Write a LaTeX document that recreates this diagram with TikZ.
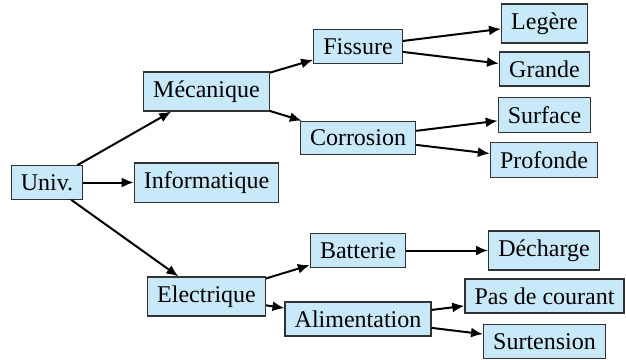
\documentclass[tikz,border=0pt]{standalone}
\usepackage{fontspec}
\setmainfont{Liberation Serif}
\usepackage{tikz}
\usetikzlibrary{arrows.meta,positioning}
\usepackage{xcolor}
\definecolor{boxblue}{RGB}{200,233,249}
\definecolor{boxline}{RGB}{50,50,50}

\tikzset{
    cat/.style={draw=boxline, fill=boxblue, line width=0.6pt, inner xsep=4.8pt, inner ysep=4.3pt, font=\fontsize{12}{14}\selectfont},
    link/.style={-{Latex[length=6pt,width=5pt]}, line width=1pt}
}

\begin{document}
\begin{tikzpicture}[x=0.5pt, y=-0.5pt]

\useasboundingbox (0,0) rectangle (626,359);

% Root
\node[cat] (univ) at (47, 182.5) {Univ.};

% First level
\node[cat] (meca) at (206.5, 91.5) {Mécanique};
\node[cat] (info) at (206.5, 182.5) {Informatique};
\node[cat] (elec) at (206.5, 296.5) {Electrique};

% Second level
\node[cat] (fiss) at (358, 46.5) {Fissure};
\node[cat] (corr) at (358, 138) {Corrosion};
\node[cat] (batt) at (358, 250.5) {Batterie};
\node[cat] (alim) at (358, 319) {Alimentation};

% Leaves
\node[cat] (leg)  at (544.5, 23.5) {Legère};
\node[cat] (grd)  at (544.5, 69) {Grande};
\node[cat] (surf) at (544.5, 115) {Surface};
\node[cat] (prof) at (544, 160) {Profonde};
\node[cat] (dech) at (544, 250.5) {Décharge};
\node[cat] (pas)  at (544.5, 296) {Pas de courant};
\node[cat] (surt) at (544.5, 341.5) {Surtension};

% Arrows
\foreach \a/\b in {univ/meca, univ/info, univ/elec,
                   meca/fiss, meca/corr, elec/batt, elec/alim,
                   fiss/leg, fiss/grd, corr/surf, corr/prof,
                   batt/dech, alim/pas, alim/surt} {
    \draw[link] (\a) -- (\b);
}

\end{tikzpicture}
\end{document}
